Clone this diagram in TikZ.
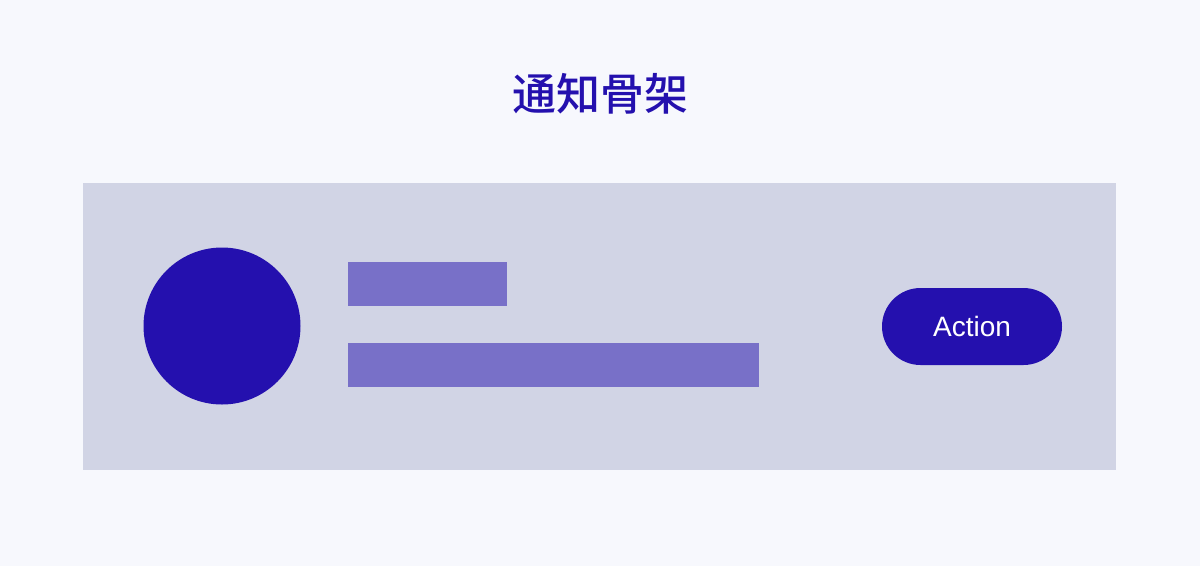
\documentclass[tikz,border=0pt]{standalone}
\usepackage{fontspec}
\setmainfont{Liberation Sans}
\newfontfamily\cjk{Noto Sans CJK SC}[UprightFont={* Medium}]
\usetikzlibrary{positioning}
\definecolor{pagebg}{HTML}{F7F8FD}
\definecolor{cardbg}{HTML}{D1D4E5}
\definecolor{inkblue}{HTML}{2410AE}
\definecolor{barlav}{HTML}{7870C8}
\tikzset{
  skelbar/.style={fill=barlav, draw=none},
  actionbtn/.style={fill=inkblue, draw=none, rounded corners=38.5pt,
    minimum width=180pt, minimum height=77pt, inner sep=0pt,
    text=white, font=\fontsize{28}{32}\selectfont}
}
\begin{document}
\begin{tikzpicture}[x=1pt, y=-1pt]
			%%%%% BACKGROUND %%%%%
			\fill[pagebg] (0, 0) rectangle (1200, 566);
			\useasboundingbox (0, 0) rectangle (1200, 566);
			
			\node[text=inkblue, font=\cjk\fontsize{44}{48}\selectfont] (title) at (600, 94) {通知骨架};
			
			%%%%% CARD %%%%%
			\fill[cardbg] (83, 183) rectangle (1116, 470);
			
			\fill[inkblue] (222, 326) circle (78.5);
			
			\fill[skelbar] (348, 262) rectangle (507, 306);
			\fill[skelbar] (348, 343) rectangle (759, 387);
			
			\node[actionbtn] (action) at (972, 326.5) {Action};
\end{tikzpicture}
\end{document}
